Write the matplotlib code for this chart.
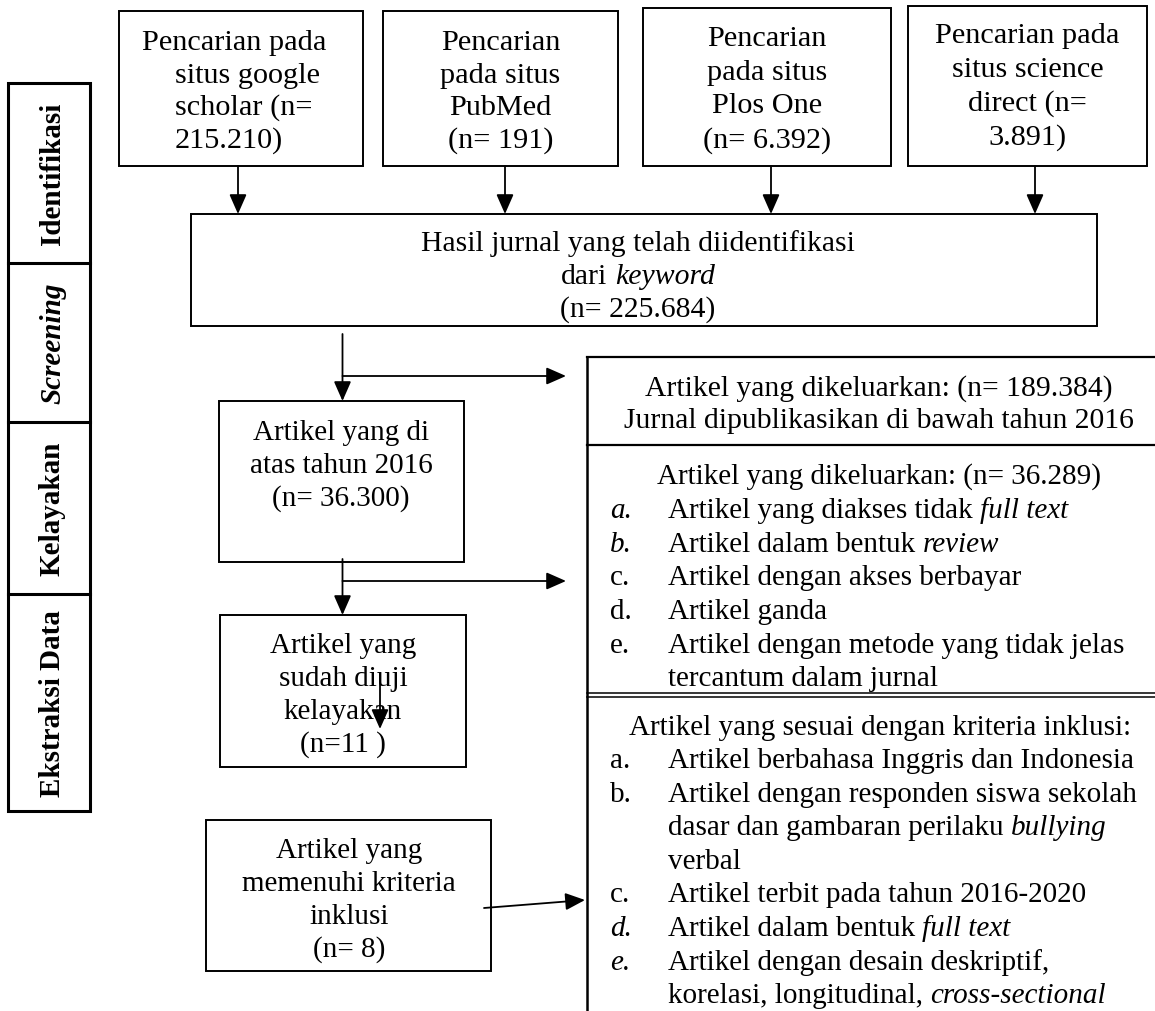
import matplotlib.pyplot as plt
from matplotlib.patches import Rectangle

plt.rcParams['font.family'] = ['Liberation Serif', 'DejaVu Serif']
FS = 21
FS_TOP = 21.8

# --- texts of the diagram ---
search_lines = [
    ["Pencarian pada", "situs google", "scholar (n=", "215.210)"],
    ["Pencarian", "pada situs", "PubMed", "(n= 191)"],
    ["Pencarian", "pada situs", "Plos One", "(n= 6.392)"],
    ["Pencarian pada", "situs science", "direct (n=", "3.891)"],
]
stage_labels = ["Identifikasi", "Screening", "Kelayakan", "Ekstraksi Data"]
stage_italic = [False, True, False, False]
identified_lines = [
    [("Hasil jurnal yang telah diidentifikasi", False)],
    [("dari", False), ("keyword", True)],
    [("(n= 225.684)", False)],
]
after2016_lines = ["Artikel yang di", "atas tahun 2016", "(n= 36.300)"]
eligible_lines = ["Artikel yang", "sudah diuji", "kelayakan", "(n=11 )"]
included_lines = ["Artikel yang", "memenuhi kriteria", "inklusi", "(n= 8)"]
excluded1_lines = ["Artikel yang dikeluarkan: (n= 189.384)",
                   "Jurnal dipublikasikan di bawah tahun 2016"]
excluded2_header = "Artikel yang dikeluarkan: (n= 36.289)"
excluded2_items = [
    ("a.", True, [[("Artikel yang diakses tidak", False), ("full text", True)]]),
    ("b.", True, [[("Artikel dalam bentuk", False), ("review", True)]]),
    ("c.", False, [[("Artikel dengan akses berbayar", False)]]),
    ("d.", False, [[("Artikel ganda", False)]]),
    ("e.", False, [[("Artikel dengan metode yang tidak jelas", False)],
                   [("tercantum dalam jurnal", False)]]),
]
inclusion_header = "Artikel yang sesuai dengan kriteria inklusi:"
inclusion_items = [
    ("a.", False, [[("Artikel berbahasa Inggris dan Indonesia", False)]]),
    ("b.", False, [[("Artikel dengan responden siswa sekolah", False)],
                   [("dasar dan gambaran perilaku", False), ("bullying", True)],
                   [("verbal", False)]]),
    ("c.", False, [[("Artikel terbit pada tahun 2016-2020", False)]]),
    ("d.", True, [[("Artikel dalam bentuk", False), ("full text", True)]]),
    ("e.", True, [[("Artikel dengan desain deskriptif,", False)],
                  [("korelasi, longitudinal,", False), ("cross-sectional", True)]]),
]

fig = plt.figure(figsize=(11.55, 10.12), dpi=100)
ax = fig.add_axes([0, 0, 1, 1])
ax.set_xlim(0, 1155)
ax.set_ylim(1012, 0)
ax.axis('off')
renderer = fig.canvas.get_renderer()

# width of one space
t1 = ax.text(0, 0, "n n", fontsize=FS)
t2 = ax.text(0, 0, "nn", fontsize=FS)
SPACE = t1.get_window_extent(renderer).width - t2.get_window_extent(renderer).width
t1.remove()
t2.remove()


def box(x0, y0, x1, y1, lw=1.4):
    ax.add_patch(Rectangle((x0, y0), x1 - x0, y1 - y0, fill=False, ec='black', lw=lw))


def arrow(x0, y0, x1, y1):
    ax.annotate('', xy=(x1, y1), xytext=(x0, y0),
                arrowprops=dict(arrowstyle='-|>,head_length=0.5,head_width=0.22',
                                mutation_scale=24, color='black', lw=1.3,
                                shrinkA=0, shrinkB=0))


def runs(x, y, parts, ha='left', fs=FS):
    arts = [ax.text(0, y, s, fontsize=fs, fontstyle='italic' if it else 'normal',
                    va='center', ha='left') for s, it in parts]
    widths = [a.get_window_extent(renderer).width for a in arts]
    total = sum(widths) + SPACE * (len(arts) - 1)
    cur = x - total / 2 if ha == 'center' else x
    for a, w in zip(arts, widths):
        a.set_x(cur)
        cur += w + SPACE


def centered_lines(cx, y0, dy, lines, fs=FS):
    for i, s in enumerate(lines):
        ax.text(cx, y0 + i * dy, s, fontsize=fs, ha='center', va='center')


# stage column
box(8, 84, 90, 812, lw=2.2)
stage_bounds = [84, 264, 423, 595, 812]
for yb in stage_bounds[1:-1]:
    ax.plot([8, 90], [yb, yb], color='black', lw=2.2)
for i, lab in enumerate(stage_labels):
    yc = (stage_bounds[i] + stage_bounds[i + 1]) / 2
    ax.text(60, yc, lab, fontsize=FS, fontweight='bold',
            fontstyle='italic' if stage_italic[i] else 'normal',
            rotation=90, rotation_mode='anchor', ha='center', va='baseline')

# search boxes
search_boxes = [(119, 12, 363, 167), (383, 12, 618, 167), (643, 9, 891, 167), (908, 7, 1147, 167)]
search_text_y = [(43, 32.5), (43, 32.5), (39, 33.7), (36, 34)]
arrow_x = [238, 505, 771, 1035]
for k, (bx, lines) in enumerate(zip(search_boxes, search_lines)):
    box(*bx)
    y0, dy = search_text_y[k]
    if k == 0:
        for i, s in enumerate(lines):
            ax.text(142 if i == 0 else 175, y0 + i * dy, s, fontsize=FS_TOP, ha='left', va='center')
    else:
        centered_lines((bx[0] + bx[2]) / 2, y0, dy, lines, fs=FS_TOP)
    arrow(arrow_x[k], 167, arrow_x[k], 215)

# identified box
box(191, 215, 1097, 327)
for i, parts in enumerate(identified_lines):
    runs(638, 244 + i * 33, parts, ha='center', fs=21.4)

# flow down the left
xm = 342.5
arrow(xm, 335, xm, 402)
arrow(xm, 377, 566, 377)
box(219, 402, 464, 563)
centered_lines(341, 433, 33, after2016_lines)

arrow(xm, 560, xm, 616)
arrow(xm, 582, 566, 582)
box(220, 616, 466, 768)
centered_lines(343, 646, 33, eligible_lines)
arrow(380, 680, 380, 730)

box(206, 821, 491, 972)
centered_lines(349, 851, 33, included_lines)
arrow(484, 909, 585, 901)

# right column
xr = 587
for yl in [358, 446, 694, 698]:
    ax.plot([xr, 1155], [yl, yl], color='black', lw=1.6 if yl < 690 else 1.1)
ax.plot([xr, xr], [358, 1012], color='black', lw=1.8)

centered_lines(879, 389, 32, excluded1_lines, fs=21.3)

ax.text(879, 477, excluded2_header, fontsize=FS, ha='center', va='center')
ax.text(880, 728, inclusion_header, fontsize=FS, ha='center', va='center')


def item_list(items, y0, dy):
    row = 0
    for marker, mit, lines in items:
        ax.text(610, y0 + row * dy, marker, fontsize=FS, ha='left', va='center',
                fontstyle='italic' if mit else 'normal')
        for parts in lines:
            runs(668, y0 + row * dy, parts)
            row += 1


item_list(excluded2_items, 511, 33.7)
item_list(inclusion_items, 761, 33.6)

fig.savefig('out.png', dpi=100)
